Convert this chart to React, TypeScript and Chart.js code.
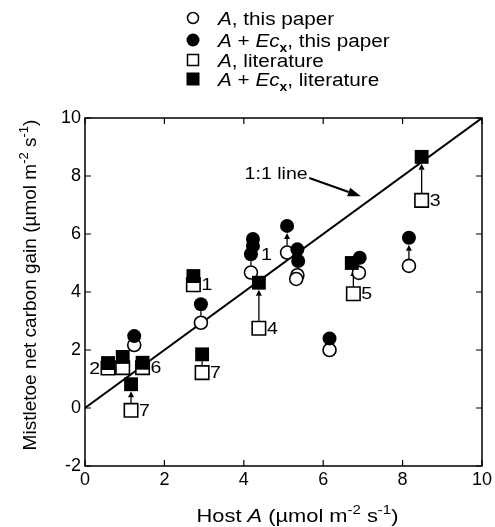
import React, { useEffect, useRef } from "react";
import { Chart, registerables } from "chart.js";
Chart.register(...registerables);

// ---- data ----
const openCircleX = [1.24, 2.92, 4.18, 5.09, 5.35, 5.32, 6.9, 8.16, 6.16];
const openCircleY = [2.17, 2.94, 4.67, 5.36, 4.58, 4.45, 4.66, 4.9, 2.0];
const filledCircleX = [1.24, 2.92, 4.18, 4.23, 4.23, 5.09, 5.35, 5.37, 6.92, 8.16, 6.16];
const filledCircleY = [2.48, 3.58, 5.3, 5.59, 5.83, 6.28, 5.47, 5.07, 5.18, 5.87, 2.4];
const openSquareX = [0.58, 0.95, 1.45, 1.16, 2.95, 4.38, 2.73, 8.48, 6.76];
const openSquareY = [1.38, 1.39, 1.39, -0.08, 1.22, 2.75, 4.25, 7.16, 3.94];
const filledSquareX = [0.58, 0.95, 1.45, 1.16, 2.95, 4.38, 2.73, 8.48, 6.72];
const filledSquareY = [1.55, 1.76, 1.56, 0.82, 1.85, 4.32, 4.55, 8.66, 5.0];
const lineX = [0, 10];
const lineY = [0, 10];

const arrowX = [2.92, 4.18, 5.09, 6.9, 8.16, 1.16, 2.95, 4.38, 6.76, 8.48];
const arrowFrom = [2.94, 4.67, 5.36, 4.66, 4.9, -0.08, 1.22, 2.75, 3.94, 7.16];
const arrowTo = [3.58, 5.3, 6.28, 5.18, 5.87, 0.82, 1.85, 4.32, 5.0, 8.66];

const labelText = ["2", "6", "7", "7", "4", "1", "3", "5", "1"];
const labelX = [0.58, 1.45, 1.16, 2.95, 4.38, 2.73, 8.48, 6.76, 4.23];
const labelY = [1.38, 1.39, -0.08, 1.22, 2.75, 4.25, 7.16, 3.94, 5.3];
const labelSide = ["left", "right", "right", "right", "right", "right", "right", "right", "right"];

const xTicks = [0, 2, 4, 6, 8, 10];
const yTicks = [-2, 0, 2, 4, 6, 8, 10];

const oneToOneText = "1:1 line";
const oneToOneTextPos = [4.02, 8.07];
const oneToOneArrow = [5.65, 7.93, 6.95, 7.3];

const FONT = '"Liberation Sans", Arial, Helvetica, sans-serif';
const SX = 1.15;

type Run = { t: string; italic?: boolean; sup?: boolean; sub?: boolean; bold?: boolean };

function runFont(r: Run, size: number) {
  const sz = r.sup || r.sub ? Math.round(size * 0.68) : size;
  return `${r.italic ? "italic " : ""}${r.bold ? "bold " : ""}${sz}px ${FONT}`;
}

function drawRich(
  ctx: CanvasRenderingContext2D,
  runs: Run[],
  x: number,
  y: number,
  size: number,
  align: "left" | "center" | "right",
  sx = 1
) {
  ctx.save();
  ctx.textAlign = "left";
  let w = 0;
  const widths = runs.map((r) => {
    ctx.font = runFont(r, size);
    const m = ctx.measureText(r.t).width;
    w += m;
    return m;
  });
  let x0 = x;
  if (align === "center") x0 = x - (w * sx) / 2;
  else if (align === "right") x0 = x - w * sx;
  ctx.translate(x0, y);
  ctx.scale(sx, 1);
  let cx = 0;
  runs.forEach((r, i) => {
    ctx.font = runFont(r, size);
    const dy = r.sup ? -size * 0.4 : r.sub ? size * 0.28 : 0;
    ctx.fillText(r.t, cx, dy);
    cx += widths[i];
  });
  ctx.restore();
}

function drawArrow(
  ctx: CanvasRenderingContext2D,
  x1: number,
  y1: number,
  x2: number,
  y2: number,
  headLen: number,
  headW: number,
  lw: number
) {
  const ang = Math.atan2(y2 - y1, x2 - x1);
  const bx = x2 - headLen * Math.cos(ang);
  const by = y2 - headLen * Math.sin(ang);
  ctx.save();
  ctx.strokeStyle = "#000";
  ctx.fillStyle = "#000";
  ctx.lineWidth = lw;
  ctx.beginPath();
  ctx.moveTo(x1, y1);
  ctx.lineTo(bx, by);
  ctx.stroke();
  ctx.beginPath();
  ctx.moveTo(x2, y2);
  ctx.lineTo(bx + (headW / 2) * Math.sin(ang), by - (headW / 2) * Math.cos(ang));
  ctx.lineTo(bx - (headW / 2) * Math.sin(ang), by + (headW / 2) * Math.cos(ang));
  ctx.closePath();
  ctx.fill();
  ctx.restore();
}

const pts = (xs: number[], ys: number[]) => xs.map((x, i) => ({ x, y: ys[i] }));

export default function App() {
  const ref = useRef<HTMLCanvasElement>(null);
  useEffect(() => {
    document.body.style.margin = "0";
    const ctx = ref.current!.getContext("2d")!;

    const plugin = {
      id: "custom",
      beforeDatasetsDraw(chart: any) {
        const c = chart.ctx as CanvasRenderingContext2D;
        const xs = chart.scales.x;
        const ys = chart.scales.y;
        arrowX.forEach((ax, i) => {
          const px = xs.getPixelForValue(ax);
          const y1 = ys.getPixelForValue(arrowFrom[i]) - 7;
          const y2 = ys.getPixelForValue(arrowTo[i]) + 7;
          if (y1 - y2 > 8) drawArrow(c, px, y1, px, y2, 6, 6, 1.3);
          else {
            c.save();
            c.lineWidth = 1.3;
            c.beginPath();
            c.moveTo(px, y1);
            c.lineTo(px, y2);
            c.stroke();
            c.restore();
          }
        });
      },
      afterDraw(chart: any) {
        const c = chart.ctx as CanvasRenderingContext2D;
        const xs = chart.scales.x;
        const ys = chart.scales.y;
        const a = chart.chartArea;
        c.save();
        c.fillStyle = "#000";
        c.strokeStyle = "#000";
        // frame
        c.lineWidth = 1.5;
        c.strokeRect(a.left, a.top, a.right - a.left, a.bottom - a.top);
        // inward ticks
        c.lineWidth = 1.2;
        c.beginPath();
        xTicks.forEach((t) => {
          const px = xs.getPixelForValue(t);
          c.moveTo(px, a.bottom);
          c.lineTo(px, a.bottom - 6);
          c.moveTo(px, a.top);
          c.lineTo(px, a.top + 6);
        });
        yTicks.forEach((t) => {
          const py = ys.getPixelForValue(t);
          c.moveTo(a.left, py);
          c.lineTo(a.left + 6, py);
          c.moveTo(a.right, py);
          c.lineTo(a.right - 6, py);
        });
        c.stroke();

        // point labels
        c.textBaseline = "middle";
        labelText.forEach((t, i) => {
          const px = xs.getPixelForValue(labelX[i]);
          const py = ys.getPixelForValue(labelY[i]);
          if (labelSide[i] === "left") drawRich(c, [{ t }], px - 8, py + 1, 17, "right", SX);
          else drawRich(c, [{ t }], px + 8, py + 1, 17, "left", SX);
        });

        // 1:1 line annotation
        drawRich(
          c,
          [{ t: oneToOneText }],
          xs.getPixelForValue(oneToOneTextPos[0]),
          ys.getPixelForValue(oneToOneTextPos[1]),
          17,
          "left",
          SX
        );
        drawArrow(
          c,
          xs.getPixelForValue(oneToOneArrow[0]),
          ys.getPixelForValue(oneToOneArrow[1]),
          xs.getPixelForValue(oneToOneArrow[2]),
          ys.getPixelForValue(oneToOneArrow[3]),
          13,
          9,
          2.2
        );

        // legend
        c.textBaseline = "alphabetic";
        const legendRows: Run[][] = [
          [{ t: "A", italic: true }, { t: ", this paper" }],
          [{ t: "A", italic: true }, { t: " + " }, { t: "Ec", italic: true }, { t: "x", sub: true, bold: true }, { t: ", this paper" }],
          [{ t: "A", italic: true }, { t: ", literature" }],
          [{ t: "A", italic: true }, { t: " + " }, { t: "Ec", italic: true }, { t: "x", sub: true, bold: true }, { t: ", literature" }],
        ];
        const rowY = [18, 40, 60, 79];
        const mx = 193;
        rowY.forEach((ry, i) => {
          c.lineWidth = 1.5;
          if (i === 0) {
            c.beginPath();
            c.arc(mx, ry, 5.5, 0, Math.PI * 2);
            c.fillStyle = "#fff";
            c.fill();
            c.stroke();
          } else if (i === 1) {
            c.beginPath();
            c.arc(mx, ry, 6.5, 0, Math.PI * 2);
            c.fillStyle = "#000";
            c.fill();
          } else if (i === 2) {
            c.fillStyle = "#fff";
            c.fillRect(mx - 5.5, ry - 5.5, 11, 11);
            c.strokeRect(mx - 5.5, ry - 5.5, 11, 11);
          } else {
            c.fillStyle = "#000";
            c.fillRect(mx - 6.5, ry - 6.5, 13, 13);
          }
          c.fillStyle = "#000";
          drawRich(c, legendRows[i], 218, ry + 6.5, 18, "left", SX);
        });

        // axis titles
        drawRich(
          c,
          [
            { t: "Host " },
            { t: "A", italic: true },
            { t: " (\u00b5mol m" },
            { t: "-2", sup: true },
            { t: " s" },
            { t: "-1", sup: true },
            { t: ")" },
          ],
          (a.left + a.right) / 2 + 14,
          522,
          19,
          "center",
          SX
        );
        c.save();
        c.translate(36, 285);
        c.rotate(-Math.PI / 2);
        drawRich(
          c,
          [
            { t: "Mistletoe net carbon gain (\u00b5mol m" },
            { t: "-2", sup: true },
            { t: " s" },
            { t: "-1", sup: true },
            { t: ")" },
          ],
          0,
          0,
          19,
          "center",
          1
        );
        c.restore();
        c.restore();
      },
    };

    const tickFont = { family: FONT, size: 18 };
    const chart = new Chart(ctx, {
      type: "scatter",
      data: {
        datasets: [
          {
            label: "1:1 line",
            data: pts(lineX, lineY),
            showLine: true,
            borderColor: "#000",
            borderWidth: 2,
            pointRadius: 0,
            order: 10,
          } as any,
          {
            label: "A, this paper",
            data: pts(openCircleX, openCircleY),
            pointStyle: "circle",
            pointRadius: 6.5,
            backgroundColor: "#fff",
            borderColor: "#000",
            borderWidth: 1.6,
            order: 4,
          },
          {
            label: "A, literature",
            data: pts(openSquareX, openSquareY),
            pointStyle: "rect",
            pointRadius: 9.5,
            backgroundColor: "#fff",
            borderColor: "#000",
            borderWidth: 1.6,
            order: 3,
          },
          {
            label: "A + Ecx, this paper",
            data: pts(filledCircleX, filledCircleY),
            pointStyle: "circle",
            pointRadius: 7,
            backgroundColor: "#000",
            borderColor: "#000",
            borderWidth: 0,
            order: 2,
          },
          {
            label: "A + Ecx, literature",
            data: pts(filledSquareX, filledSquareY),
            pointStyle: "rect",
            pointRadius: 9.8,
            backgroundColor: "#000",
            borderColor: "#000",
            borderWidth: 0,
            order: 1,
          },
        ],
      },
      options: {
        responsive: false,
        animation: false,
        layout: { padding: { left: 0, right: 7, top: 118, bottom: 0 } },
        plugins: { legend: { display: false }, tooltip: { enabled: false } },
        scales: {
          x: {
            type: "linear",
            min: 0,
            max: 10,
            ticks: { stepSize: 2, font: tickFont, color: "#000", padding: 3 },
            grid: { display: false, drawTicks: false },
            border: { display: false },
            afterFit: (s: any) => {
              s.height = 61;
            },
          },
          y: {
            type: "linear",
            min: -2,
            max: 10,
            ticks: { stepSize: 2, font: tickFont, color: "#000", padding: 4 },
            grid: { display: false, drawTicks: false },
            border: { display: false },
            afterFit: (s: any) => {
              s.width = 85;
            },
          },
        },
      } as any,
      plugins: [plugin],
    });
    return () => chart.destroy();
  }, []);
  return (
    <div style={{ width: 495, height: 527 }}>
      <canvas ref={ref} width={495} height={527} />
    </div>
  );
}
